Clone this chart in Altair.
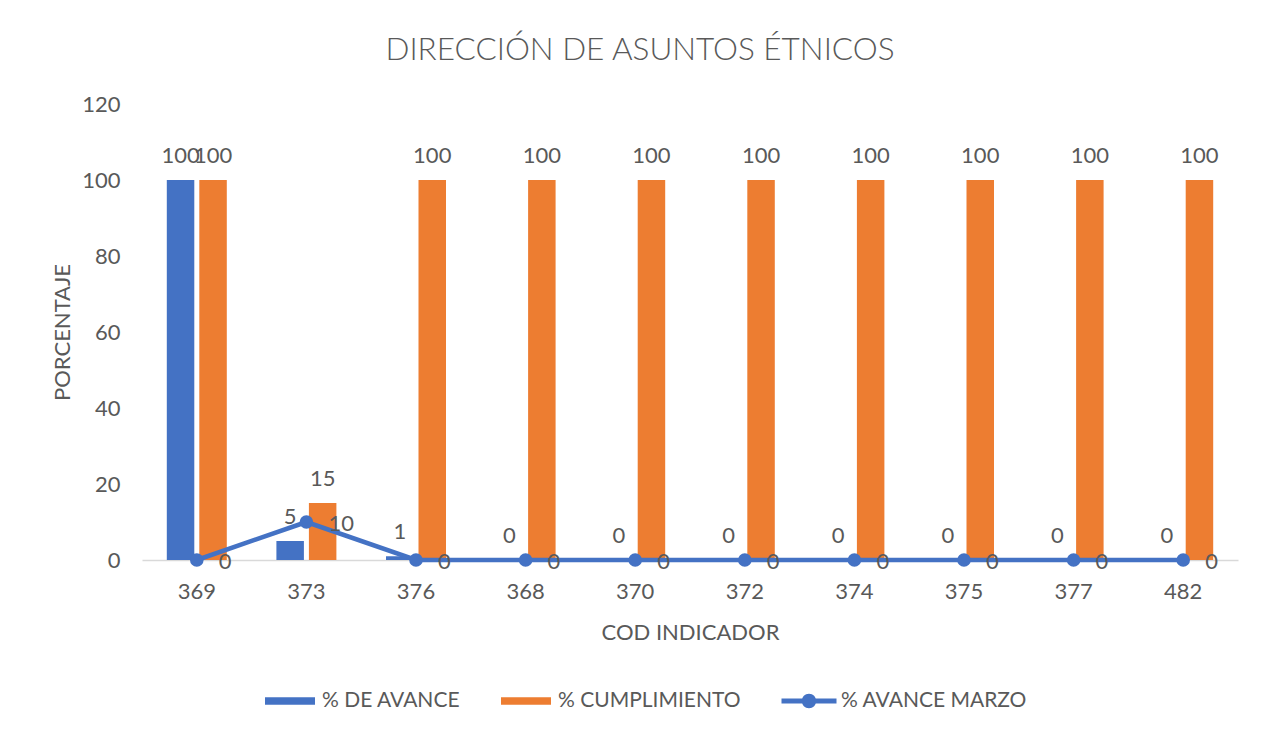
import altair as alt
import pandas as pd

cats = ["369", "373", "376", "368", "370", "372", "374", "375", "377", "482"]
avance = [100, 5, 1, 0, 0, 0, 0, 0, 0, 0]
cumplimiento = [100, 15, 100, 100, 100, 100, 100, 100, 100, 100]
marzo = [0, 10, 0, 0, 0, 0, 0, 0, 0, 0]

s_av = "% DE AVANCE"
s_cu = "% CUMPLIMIENTO"
s_ma = "% AVANCE MARZO"
series = [s_av, s_cu, s_ma]
colors = ["#4472C4", "#ED7D31", "#4472C4"]

bars_df = pd.DataFrame(
    {"cod": cats * 2, "serie": [s_av] * len(cats) + [s_cu] * len(cats), "valor": avance + cumplimiento}
)
line_df = pd.DataFrame({"cod": cats, "serie": [s_ma] * len(cats), "valor": marzo})
legend_df = pd.DataFrame({"cod": cats[:3], "serie": series, "valor": [0, 0, 0]})

FONT = "Lato"
GREY = "#595959"
FS = 22

rect_path = "M-1,-0.15 H1 V0.15 H-1 Z"
line_path = ("M-1.1,-0.1 H1.1 V0.1 H-1.1 Z "
             "M0.29,0 A0.29,0.29 0 1,1 -0.29,0 A0.29,0.29 0 1,1 0.29,0 Z")

x_enc = alt.X(
    "cod:N", sort=cats,
    scale=alt.Scale(paddingInner=0.4526, paddingOuter=0.2263),
    axis=alt.Axis(title="COD INDICADOR", labelAngle=0, ticks=False, domainColor="#D9D9D9",
                  domainWidth=1.5, labelPadding=21, titleY=72, titleBaseline="middle",
                  titleFontWeight="normal"),
)
y_enc = alt.Y(
    "valor:Q",
    scale=alt.Scale(domain=[0, 120]),
    axis=alt.Axis(title="PORCENTAJE", values=[0, 20, 40, 60, 80, 100, 120], grid=False, domain=False,
                  ticks=False, labelPadding=22, titleX=-80, titleY=228, titleAngle=-90,
                  titleBaseline="middle", titleAlign="center", titleFontWeight="normal"),
)

bars = alt.Chart(bars_df).mark_bar().encode(
    x=x_enc,
    xOffset=alt.XOffset("serie:N", sort=[s_av, s_cu], scale=alt.Scale(paddingInner=0.154)),
    y=y_enc,
    fill=alt.Fill("serie:N", scale=alt.Scale(domain=[s_av, s_cu], range=colors[:2]), legend=None),
)

bar_labels = alt.Chart(bars_df).mark_text(
    font=FONT, fontSize=FS, color=GREY, baseline="alphabetic", dy=-17
).encode(
    x=alt.X("cod:N", sort=cats),
    xOffset=alt.XOffset("serie:N", sort=[s_av, s_cu]),
    y="valor:Q",
    text="valor:Q",
)

line = alt.Chart(line_df).mark_line(color="#4472C4", strokeWidth=4.5).encode(
    x=alt.X("cod:N", sort=cats), y="valor:Q"
)
points = alt.Chart(line_df).mark_circle(color="#4472C4", size=185, opacity=1).encode(
    x=alt.X("cod:N", sort=cats), y="valor:Q"
)
line_labels = alt.Chart(line_df).mark_text(
    font=FONT, fontSize=FS, color=GREY, align="left", baseline="middle", dx=22, dy=2
).encode(x=alt.X("cod:N", sort=cats), y="valor:Q", text="valor:Q")

leg = alt.Legend(title=None, orient="none", direction="horizontal", legendX=123, legendY=572,
                 symbolSize=2500, symbolStrokeWidth=0, labelOffset=7, columnPadding=40,
                 labelFont=FONT, labelFontSize=21, labelColor=GREY, labelLimit=400,
                 padding=0, symbolOpacity=1)

legend_layer = alt.Chart(legend_df).mark_point(filled=True, size=2500, opacity=0).encode(
    x=alt.X("cod:N", sort=cats),
    y="valor:Q",
    color=alt.Color("serie:N", scale=alt.Scale(domain=series, range=colors), legend=leg),
    shape=alt.Shape("serie:N", scale=alt.Scale(domain=series, range=[rect_path, rect_path, line_path]),
                    legend=leg),
)

chart = alt.layer(bars, bar_labels, line, points, line_labels, legend_layer).properties(
    width=1096,
    height=456,
    autosize="none",
    padding={"left": 134, "top": 96, "right": 21, "bottom": 150},
    title=alt.TitleParams("DIRECCIÓN DE ASUNTOS ÉTNICOS", anchor="middle", dx=-50, offset=27,
                          font=FONT, fontSize=31.5, fontWeight=300, color=GREY),
).configure_axis(
    labelFont=FONT, labelFontSize=FS, labelColor=GREY, titleFont=FONT, titleFontSize=FS, titleColor=GREY
).configure_view(stroke=None)

chart.save("out.html", embed_options={"renderer": "svg", "actions": False})
